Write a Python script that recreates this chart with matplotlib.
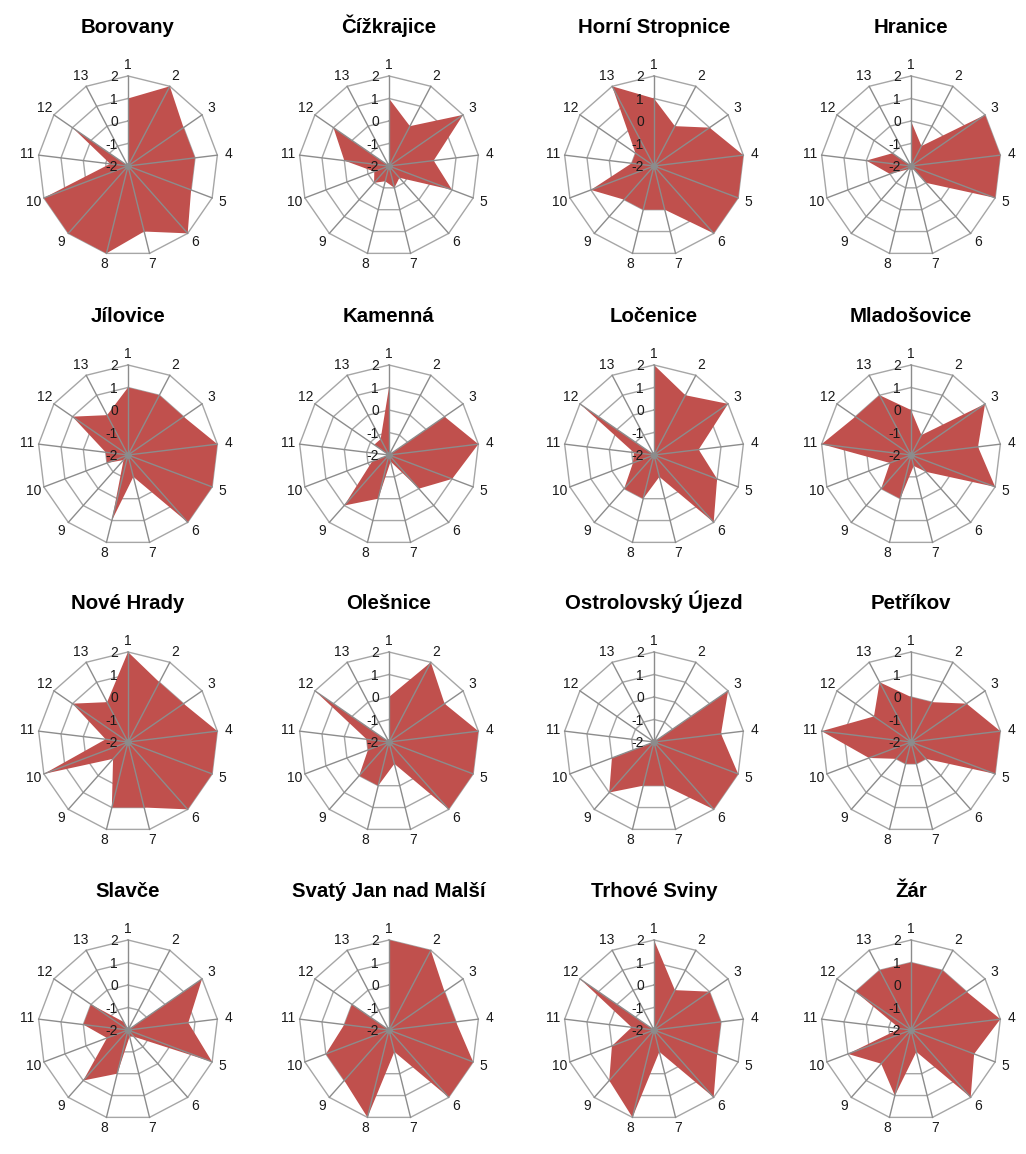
import numpy as np
import matplotlib
matplotlib.use('Agg')
import matplotlib.pyplot as plt

# town names, one radar per town
towns = ['Borovany', 'Čížkrajice', 'Horní Stropnice', 'Hranice',
         'Jílovice', 'Kamenná', 'Ločenice', 'Mladošovice',
         'Nové Hrady', 'Olešnice', 'Ostrolovský Újezd', 'Petříkov',
         'Slavče', 'Svatý Jan nad Malší', 'Trhové Sviny', 'Žár']

# scores on criteria 1..13 (scale -2..2)
borovany = [1, 2, 1, 1, 1, 2, 1, 2, 2, 2, -1.2, 1, -2]
cizkrajice = [1, 0, 2, 0, 1, -1.3, -1, -1.3, -1, -1.3, 0, 1, -2]
horni_stropnice = [1, 0, 1, 2, 2, 2, 0, 0, 0, 1, -1, -1, 2]
hranice = [0, -1, 2, 2, 2, -1, -2, -2, -1.8, -1, 0, -1, -2]
jilovice = [1, 1, 1, 2, 2, 2, -1, 1, -1.7, -1, -1, 1, 0]
kamenna = [1, -2, 1, 2, 1, 0, -1.7, 0, 1, -1.2, -2, -1.2, -1.2]
locenice = [2, 1, 2, 0, 1, 2, -1, 0, 0, -1, -1.1, 2, -2]
mladosovice = [0, -1, 2, 1, 2, -1, -1.5, 0, 0, -1, 2, 1, 1]
nove_hrady = [2, 1, 1, 2, 2, 2, 1, 1, -1, 2, -1, 1, 0]
olesnice = [0, 2, 1, 2, 2, 2, -1, 0, 0, -1, -1, 2, -2]
ostrolovsky_ujezd = [-2, -2, 2, 1, 2, 2, 0, 0, 1, 0, -2, -2, -2]
petrikov = [0, 0, 1, 2, 2, -1, -1, -1, -1, 0, 2, 0, 1]
slavce = [-2, -2, 2, 0.7, 2, -1.6, -1.7, 0, 1, -1, 0, 0, -1.6]
svaty_jan = [2, 2, 1, 1, 2, 2, -1, 2, 1, 1, 0, 0, -2]
trhove_sviny = [2, 0, 1, 1, 1, 2, -1, 2, 1, 0, -1, 2, -2]
zar = [1, 1, 1, 2, 1, 2, -1, 1, 0, 1, -1.5, 1, 1]

series = [borovany, cizkrajice, horni_stropnice, hranice,
          jilovice, kamenna, locenice, mladosovice,
          nove_hrady, olesnice, ostrolovsky_ujezd, petrikov,
          slavce, svaty_jan, trhove_sviny, zar]

categories = [str(i) for i in range(1, 14)]
levels = [-2, -1, 0, 1, 2]

W, H = 1026, 1154
col_x = [128, 389, 654, 911]
row_y = [166, 455, 742, 1030]
half = 117  # half axes size in px, 4 units = 90 px

fill_color = '#c0504d'
ring_color = '#a6a6a6'
spoke_color = '#8c8c8c'
text_color = '#1a1a1a'

plt.rcParams['font.family'] = ['Liberation Sans', 'DejaVu Sans']

fig = plt.figure(figsize=(W / 100, H / 100), dpi=100)

n = len(categories)
angles = np.pi / 2 - np.arange(n) * 2 * np.pi / n
rmin = levels[0]


def to_xy(vals):
    r = np.asarray(vals, dtype=float) - rmin
    return r * np.cos(angles), r * np.sin(angles)


for i, (name, vals) in enumerate(zip(towns, series)):
    cx, cy = col_x[i % 4], row_y[i // 4]
    ax = fig.add_axes([(cx - half) / W, 1 - (cy + half) / H, 2 * half / W, 2 * half / H])
    ax.set_xlim(-5.2, 5.2)
    ax.set_ylim(-5.2, 5.2)
    ax.set_aspect('equal')
    ax.axis('off')

    # polygon rings
    for lv in levels[1:]:
        x, y = to_xy([lv] * n)
        ax.plot(np.append(x, x[0]), np.append(y, y[0]), color=ring_color, lw=1, zorder=1)

    # data area
    x, y = to_xy(vals)
    ax.fill(x, y, color=fill_color, lw=0, zorder=2)

    # spokes
    ox, oy = to_xy([levels[-1]] * n)
    for k in range(n):
        ax.plot([0, ox[k]], [0, oy[k]], color=spoke_color, lw=1, zorder=3)
    ax.plot(0, 0, 'o', color=spoke_color, ms=4, zorder=4)

    # category labels
    lx, ly = to_xy([2.5] * n)
    for k in range(n):
        ax.text(lx[k], ly[k], categories[k], ha='center', va='center',
                fontsize=10, color=text_color, zorder=5)

    # value labels along first spoke
    for lv in levels:
        ax.text(-0.45, lv - rmin - 0.05, str(lv), ha='right', va='center',
                fontsize=10, color=text_color, zorder=5)

    fig.text(cx / W, 1 - (cy - 133) / H, name, ha='center', va='baseline',
             fontsize=14.7, fontweight='bold', color='black')

fig.savefig('out.png', dpi=100, facecolor='white')
